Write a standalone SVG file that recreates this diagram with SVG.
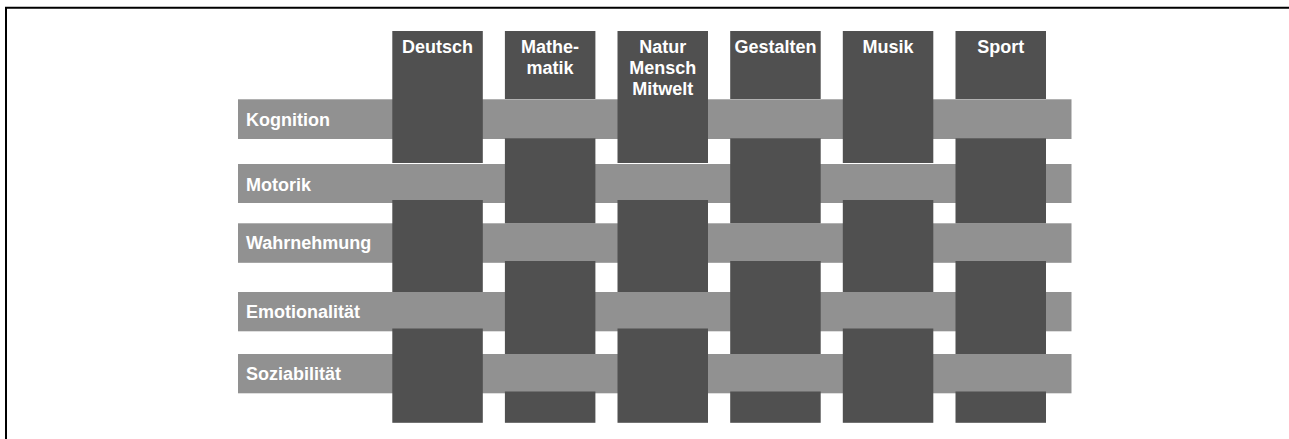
<svg xmlns="http://www.w3.org/2000/svg" width="1289" height="439" viewBox="0 0 1289 439">
<style>
.col{fill:#505050}
.row{fill:#919191}
.lbl{font-family:"Liberation Sans",Arial,sans-serif;font-weight:bold;font-size:18px;fill:#ffffff}
.c{text-anchor:middle}
</style>
<rect width="1289" height="439" fill="#ffffff"/>
<path d="M6,439 V7.7 H1289" fill="none" stroke="#000000" stroke-width="2"/>
<g id="rows">
<g id="row-kognition"><rect class="row" x="238" y="99.3" width="833.5" height="39.7"/><text class="lbl" x="246" y="126">Kognition</text></g>
<g id="row-motorik"><rect class="row" x="238" y="164" width="833.5" height="39"/><text class="lbl" x="246" y="190.7">Motorik</text></g>
<g id="row-wahrnehmung"><rect class="row" x="238" y="223.3" width="833.5" height="39.5"/><text class="lbl" x="246" y="249.3">Wahrnehmung</text></g>
<g id="row-emotionalitaet"><rect class="row" x="238" y="292" width="833.5" height="39.3"/><text class="lbl" x="246" y="318">Emotionalität</text></g>
<g id="row-soziabilitaet"><rect class="row" x="238" y="354" width="833.5" height="39.3"/><text class="lbl" x="246" y="380">Soziabilität</text></g>
</g>
<g id="columns">
<g id="col-deutsch">
<rect class="col" x="392.3" y="31" width="90.5" height="132"/>
<rect class="col" x="392.3" y="200" width="90.5" height="92"/>
<rect class="col" x="392.3" y="328.5" width="90.5" height="94.3"/>
<text class="lbl c" x="437.5" y="52.7">Deutsch</text>
</g>
<g id="col-mathematik">
<rect class="col" x="504.9" y="31" width="90.5" height="68"/>
<rect class="col" x="504.9" y="138.3" width="90.5" height="85"/>
<rect class="col" x="504.9" y="261" width="90.5" height="93"/>
<rect class="col" x="504.9" y="391.5" width="90.5" height="31.3"/>
<text class="lbl c" x="550.1" y="52.7">Mathe-</text>
<text class="lbl c" x="550.1" y="73.5">matik</text>
</g>
<g id="col-natur">
<rect class="col" x="617.5" y="31" width="90.5" height="132"/>
<rect class="col" x="617.5" y="200" width="90.5" height="92"/>
<rect class="col" x="617.5" y="328.5" width="90.5" height="94.3"/>
<text class="lbl c" x="662.7" y="52.7">Natur</text>
<text class="lbl c" x="662.7" y="74">Mensch</text>
<text class="lbl c" x="662.7" y="95">Mitwelt</text>
</g>
<g id="col-gestalten">
<rect class="col" x="730.2" y="31" width="90.5" height="68"/>
<rect class="col" x="730.2" y="138.3" width="90.5" height="85"/>
<rect class="col" x="730.2" y="261" width="90.5" height="93"/>
<rect class="col" x="730.2" y="391.5" width="90.5" height="31.3"/>
<text class="lbl c" x="775.4" y="52.7">Gestalten</text>
</g>
<g id="col-musik">
<rect class="col" x="842.8" y="31" width="90.5" height="132"/>
<rect class="col" x="842.8" y="200" width="90.5" height="92"/>
<rect class="col" x="842.8" y="328.5" width="90.5" height="94.3"/>
<text class="lbl c" x="888" y="52.7">Musik</text>
</g>
<g id="col-sport">
<rect class="col" x="955.5" y="31" width="90.5" height="68"/>
<rect class="col" x="955.5" y="138.3" width="90.5" height="85"/>
<rect class="col" x="955.5" y="261" width="90.5" height="93"/>
<rect class="col" x="955.5" y="391.5" width="90.5" height="31.3"/>
<text class="lbl c" x="1000.7" y="52.7">Sport</text>
</g>
</g>
<g id="connectors"/>
</svg>
